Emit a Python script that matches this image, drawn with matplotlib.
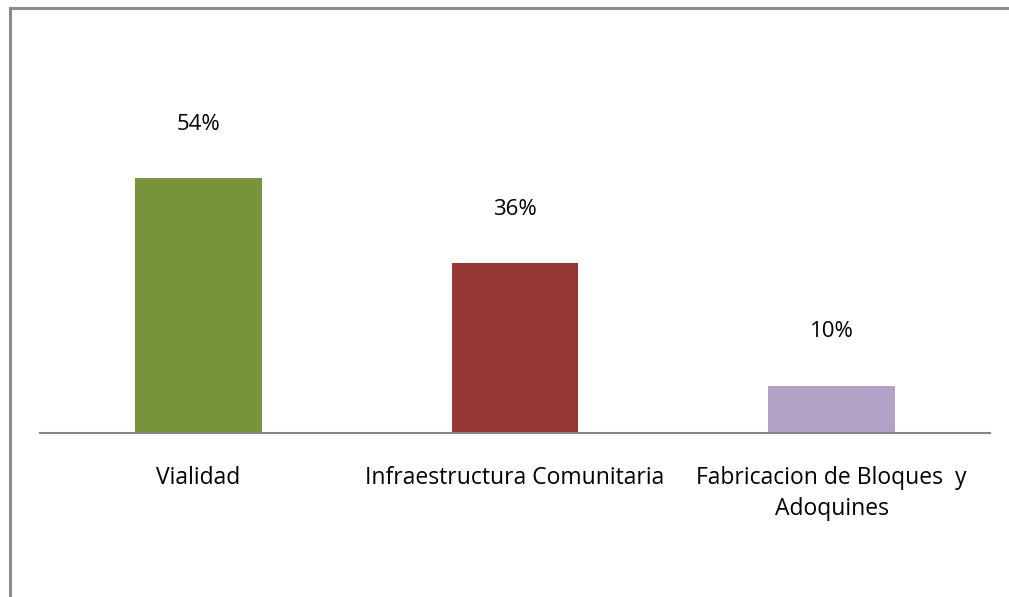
"""Share of works by category, drawn as a plain bar chart with a framed page."""

import matplotlib.pyplot as plt
from matplotlib.patches import Rectangle

plt.rcParams["font.family"] = ["Open Sans", "DejaVu Sans"]

categories = ["Vialidad", "Infraestructura Comunitaria",
              "Fabricacion de Bloques  y\nAdoquines"]
shares = [54, 36, 10]
labels = ["54%", "36%", "10%"]
colors = ["#77933C", "#953735", "#B3A2C7"]

W, H = 1009, 597
fig = plt.figure(figsize=(W / 100, H / 100), dpi=100)
ax = fig.add_axes([40 / W, 164 / H, 950 / W, 283 / H])

x = range(len(categories))
ax.bar(x, shares, width=0.4, color=colors, zorder=2)
ax.set_xlim(-0.5, 2.5)
ax.set_ylim(0, 60)

for xi, v, lab in zip(x, shares, labels):
    ax.annotate(lab, (xi, v), xytext=(0, 39), textcoords="offset points",
                ha="center", va="center", fontsize=16, color="#000000",
                annotation_clip=False)

ax.set_xticks(list(x))
ax.set_xticklabels(categories, fontsize=16.5, linespacing=1.35,
                   multialignment="center")
ax.tick_params(axis="x", length=0, pad=24)
ax.set_yticks([])
for side in ("top", "right", "left"):
    ax.spines[side].set_visible(False)
ax.spines["bottom"].set_color("#868686")
ax.spines["bottom"].set_linewidth(1.5)

# page frame; only its top and left edges fall inside the canvas
fig.patches.append(Rectangle((10 / W, -0.5), 1.5, 1.5 - 8 / H,
                             transform=fig.transFigure, fill=False,
                             edgecolor="#8c8c8c", linewidth=2.2))

fig.savefig("out.png", dpi=100, facecolor="white")
